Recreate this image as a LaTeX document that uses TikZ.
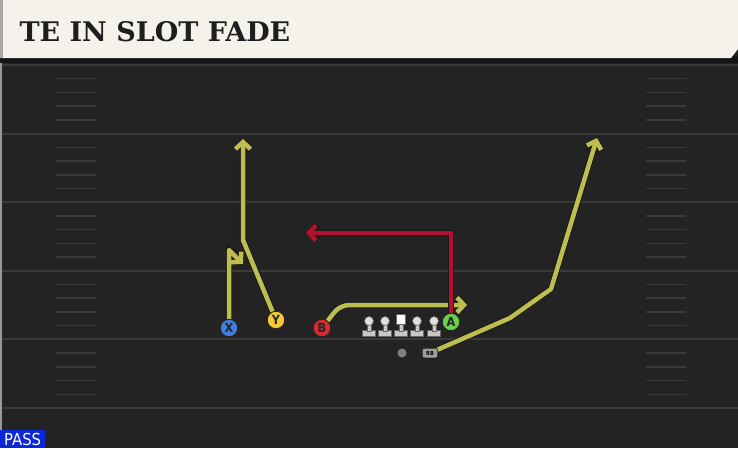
\documentclass[tikz,border=0pt]{standalone}
\usepackage{fontspec}
\usetikzlibrary{arrows.meta}
\newfontfamily\titlefont{DejaVu Serif}
\newfontfamily\playfont{DejaVu Sans Condensed}
\definecolor{field}{HTML}{232323}
\definecolor{yardline}{HTML}{3A3A3A}
\definecolor{titlebg}{HTML}{F4F2EB}
\definecolor{titletext}{HTML}{1E1E1E}
\definecolor{routeyel}{HTML}{BDBD50}
\definecolor{routered}{HTML}{B3122E}
\definecolor{xblue}{HTML}{3F7FDC}
\definecolor{yyel}{HTML}{F4C838}
\definecolor{bred}{HTML}{D82A33}
\definecolor{agreen}{HTML}{6ACF4A}
\definecolor{passblue}{HTML}{0B27D8}
\tikzstyle{player}=[circle,draw=black!85,line width=.9pt,minimum size=17.5pt,inner sep=0pt,font=\playfont\bfseries\fontsize{12.5}{12.5}\selectfont,text=black!85]
\tikzstyle{route}=[line width=4.5pt,line join=round,-{Straight Barb[length=7pt,width=15pt]},preaction={draw=black!90,line width=6.3pt}]
\tikzstyle{yard}=[draw=yardline,line width=2pt]
\tikzstyle{hash}=[draw=yardline,line width=1.5pt]
\tikzstyle{lineman}=[fill=black!22,draw=black!60,line width=.6pt]

\begin{document}
\begin{tikzpicture}[x=1pt,y=-1pt]
\useasboundingbox (0,0) rectangle (738,448);
\fill[field] (0,0) rectangle (738,448);
\foreach \j in {1,...,24} {
  \draw[hash] (56,{65+13.72*\j}) -- (96,{65+13.72*\j});
  \draw[hash] (646,{65+13.72*\j}) -- (686,{65+13.72*\j});
}
\foreach \i in {0,...,5} \draw[yard] (0,{65+68.6*\i}) -- (738,{65+68.6*\i});
\draw[black!40,line width=2pt] (1,58) -- (1,448);
\fill[black!92] (0,56) rectangle (738,63);
\fill[titlebg] (0,0) -- (738,0) -- (738,49) -- (731,58) -- (0,58) -- cycle;
\fill[black!35] (0,0) rectangle (3,58);
\node[anchor=west,font=\titlefont\bfseries\fontsize{27}{27}\selectfont,text=titletext] (title) at (16,32) {TE IN SLOT FADE};

\foreach \lx in {369,385,417,434} {
  \draw[lineman] (\lx-6.5,330) rectangle (\lx+6.5,336.5);
  \draw[lineman] (\lx-2.2,323) rectangle (\lx+2.2,331);
  \draw[lineman,fill=black!12] (\lx,321) circle (4.5);
}
\draw[lineman] (394.5,330) rectangle (407.5,336.5);
\draw[lineman] (398.8,323) rectangle (403.2,331);
\draw[lineman,fill=white] (396.5,314.5) rectangle (405.5,324);

\node[player,fill=xblue] (x) at (229,328) {X};
\node[player,fill=yyel] (y) at (276,320) {Y};
\node[player,fill=bred] (b) at (322,328) {B};
\node[player,fill=agreen] (a) at (451,322) {A};
\node[circle,fill=black!50,minimum size=9pt,inner sep=0pt] (qb) at (402,353) {};
\node[rounded corners=2pt,fill=black!38,draw=black!80,line width=.5pt,minimum width=15pt,minimum height=9.5pt,inner sep=0pt,font=\playfont\bfseries\fontsize{5.5}{5.5}\selectfont] (rb) at (430,353) {RB};

\coordinate (x1) at (229,250);
\coordinate (x2) at (243,264);
\coordinate (y1) at (243,240);
\coordinate (y2) at (243,139);
\coordinate (b1) at (340,305);
\coordinate (b2) at (467,305);
\coordinate (a1) at (306,233);
\coordinate (r1) at (510,318);
\coordinate (r2) at (551,289);
\coordinate (r3) at (597,138);
\draw[route,draw=routeyel] (x) -- (x1) -- (x2);
\draw[route,draw=routeyel] (y) -- (y1) -- (y2);
\draw[route,draw=routeyel,rounded corners=9pt] (b) -- (b1) -- (b2);
\draw[route,draw=routered] (a) |- (a1);
\draw[route,draw=routeyel] (rb) -- (r1) -- (r2) -- (r3);

\node[fill=passblue,text=white,anchor=south west,font=\playfont\fontsize{16.5}{16.5}\selectfont,inner xsep=4pt,inner ysep=2.5pt] (pass) at (0,448) {PASS};
\end{tikzpicture}
\end{document}
